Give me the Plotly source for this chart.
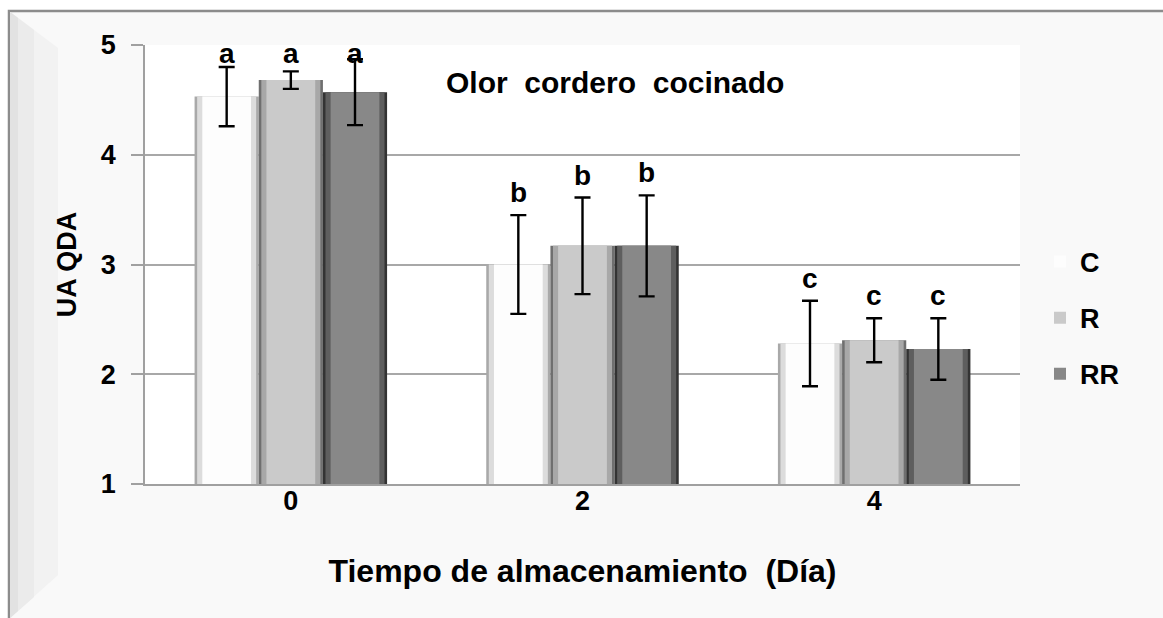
import plotly.graph_objects as go

# Storage time (days) and sensory scores
days = ["0", "2", "4"]
series = ["C", "R", "RR"]
means_c = [4.53, 3.00, 2.28]
means_r = [4.68, 3.17, 2.31]
means_rr = [4.57, 3.17, 2.23]
err_c = [0.27, 0.45, 0.39]
err_r = [0.08, 0.44, 0.20]
err_rr = [0.30, 0.46, 0.28]
letters_c = ["a", "b", "c"]
letters_r = ["a", "b", "c"]
letters_rr = ["a", "b", "c"]

W, H = 1163, 618
ML, MR, MT, MB = 145, 143, 45, 134
PW, PH = W - ML - MR, H - MT - MB

FONT = "Liberation Sans, Arial, sans-serif"


def px(x):
    return (x - ML) / PW


def py(y):
    return (H - MB - y) / PH


# three shading layers per bar: outer edge, mid tone, face
shade = {
    "C": ["#a9a9a9", "#dcdcdc", "#fdfdfd"],
    "R": ["#6f6f6f", "#a8a8a8", "#cacaca"],
    "RR": ["#333333", "#5e5e5e", "#888888"],
}
layer_frac = [1.0, 0.92, 0.76]

means = {"C": means_c, "R": means_r, "RR": means_rr}
errs = {"C": err_c, "R": err_r, "RR": err_rr}
lets = {"C": letters_c, "R": letters_r, "RR": letters_rr}

bar_w = 0.22
offsets = {"C": -0.33, "R": -0.11, "RR": 0.11}

fig = go.Figure()

for s in series:
    heights = [m - 1 for m in means[s]]
    for k, frac in enumerate(layer_frac):
        w = bar_w * frac
        is_face = k == len(layer_frac) - 1
        if is_face:
            kwargs = dict(
                name=s, legendgroup=s, showlegend=True,
                error_y=dict(type="data", array=errs[s], color="black",
                             thickness=2.4, width=8),
            )
        else:
            kwargs = dict(showlegend=False)
        fig.add_trace(go.Bar(
            x=days, y=heights, base=1,
            width=w, offset=offsets[s] + (bar_w - w) / 2,
            marker=dict(color=shade[s][k], line=dict(width=0)),
            hoverinfo="skip", **kwargs,
        ))

# significance letters above the error bars
for s in series:
    for j, d in enumerate(days):
        top = min(means[s][j] + errs[s][j], 4.72)
        fig.add_annotation(
            x=j + offsets[s] + bar_w / 2, y=top, xref="x", yref="y",
            text=lets[s][j], showarrow=False, yanchor="bottom", yshift=5,
            font=dict(family=FONT, size=28, color="black", weight="bold"),
        )

fig.add_annotation(
    x=px(615), y=py(82), xref="paper", yref="paper",
    xanchor="center", yanchor="middle",
    text="Olor  cordero  cocinado", showarrow=False,
    font=dict(family=FONT, size=30, color="black", weight="bold"),
)

shapes = [
    # outer frame
    dict(type="rect", xref="paper", yref="paper", layer="below",
         x0=px(9), x1=px(1175), y0=py(630), y1=py(11),
         fillcolor="#f9f9f9", line=dict(color="#8c8c8c", width=2.5)),
    # soft bevel on the left side of the frame
    dict(type="path", xref="paper", yref="paper", layer="below",
         path=f"M {px(10)},{py(12)} L {px(58)},{py(48)} L {px(58)},{py(575)} L {px(10)},{py(618)} Z",
         fillcolor="#f2f2f2", line=dict(width=0)),
    dict(type="path", xref="paper", yref="paper", layer="below",
         path=f"M {px(10)},{py(12)} L {px(34)},{py(30)} L {px(34)},{py(597)} L {px(10)},{py(618)} Z",
         fillcolor="#ebebeb", line=dict(width=0)),
    dict(type="path", xref="paper", yref="paper", layer="below",
         path=f"M {px(10)},{py(12)} L {px(18)},{py(18)} L {px(18)},{py(611)} L {px(10)},{py(618)} Z",
         fillcolor="#e2e2e2", line=dict(width=0)),
    # plot area
    dict(type="rect", xref="paper", yref="paper", layer="below",
         x0=0, x1=1, y0=0, y1=1, fillcolor="white", line=dict(width=0)),
]

fig.update_layout(
    width=W, height=H,
    margin=dict(l=ML, r=MR, t=MT, b=MB),
    paper_bgcolor="white", plot_bgcolor="white",
    barmode="overlay",
    shapes=shapes,
    font=dict(family=FONT, color="black"),
    showlegend=True,
    legend=dict(
        x=px(1040), y=py(318), xanchor="left", yanchor="middle",
        bgcolor="rgba(0,0,0,0)", traceorder="grouped",
        tracegroupgap=18, itemwidth=30,
        font=dict(family=FONT, size=27, color="black", weight="bold"),
    ),
    xaxis=dict(
        type="category", range=[-0.5, 2.5],
        showline=True, linecolor="#a0a0a0", linewidth=1.5,
        ticks="", showgrid=False,
        ticklabelstandoff=-8,
        tickfont=dict(family=FONT, size=27, color="black", weight="bold"),
        title=dict(text="Tiempo de almacenamiento  (Día)", standoff=44,
                   font=dict(family=FONT, size=32, color="black", weight="bold")),
    ),
    yaxis=dict(
        range=[1, 5], dtick=1, tick0=1,
        showline=True, linecolor="#a0a0a0", linewidth=1.5,
        ticks="outside", ticklen=12, tickcolor="#a0a0a0", tickwidth=1.5,
        ticklabelstandoff=10,
        showgrid=True, gridcolor="#a8a8a8", gridwidth=1.5,
        zeroline=False,
        tickfont=dict(family=FONT, size=27, color="black", weight="bold"),
        title=dict(text="UA QDA", standoff=16,
                   font=dict(family=FONT, size=27, color="black", weight="bold")),
    ),
)

fig.write_html("out.html")
